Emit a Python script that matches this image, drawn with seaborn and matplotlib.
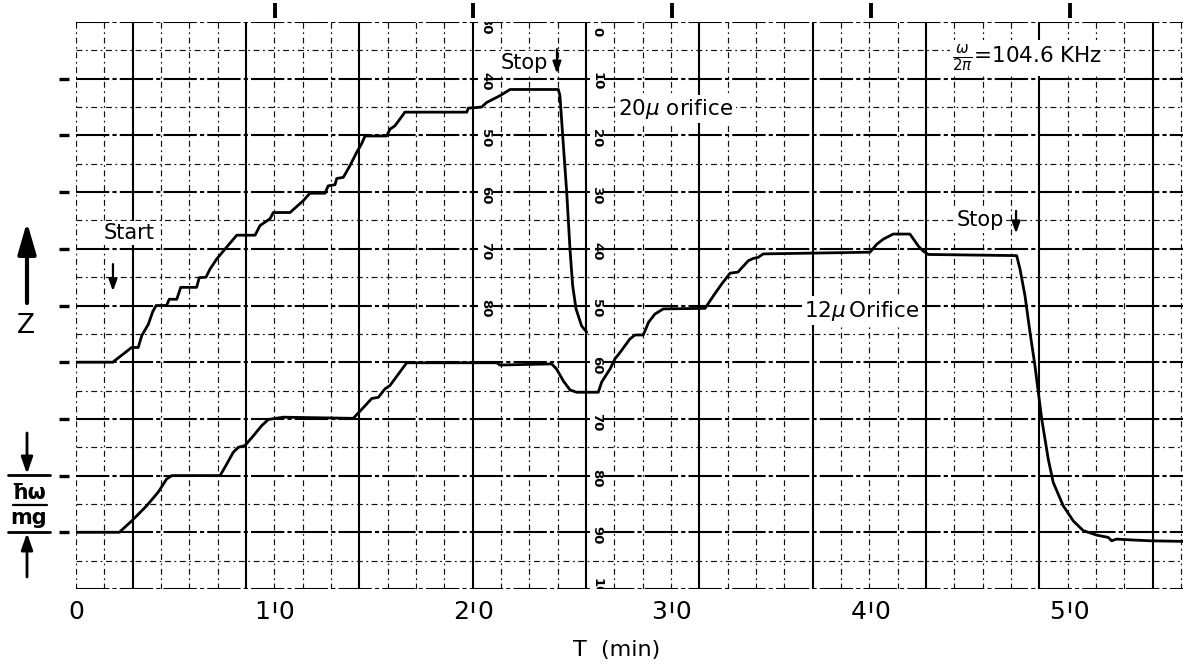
import numpy as np
import pandas as pd
import matplotlib
matplotlib.use("Agg")
import matplotlib.pyplot as plt
import seaborn as sns

# ---------------- data (T in minutes, Z in units of hbar*omega/mg) ----------------
t_20 = [0.00, 1.85, 2.80, 3.13, 3.31, 3.64, 3.86, 4.03, 4.56, 4.69, 5.07, 5.27, 6.07, 6.20,
        6.54, 6.74, 7.08, 7.58, 8.09, 9.01, 9.26, 9.76, 9.93, 10.77, 11.44, 11.77, 12.53,
        12.69, 13.03, 13.12, 13.45, 13.79, 14.12, 14.37, 14.54, 15.63, 15.80, 16.05, 16.55,
        19.66, 19.74, 20.41, 20.66, 21.33, 21.84, 24.27, 24.35, 24.49, 24.69, 24.86, 24.99,
        25.16, 25.44, 25.70]
z_20 = [4.00, 4.00, 4.26, 4.26, 4.47, 4.67, 4.89, 5.00, 5.00, 5.11, 5.11, 5.32, 5.32, 5.49,
        5.50, 5.64, 5.82, 6.03, 6.24, 6.24, 6.41, 6.53, 6.64, 6.64, 6.85, 6.98, 6.98,
        7.11, 7.13, 7.24, 7.26, 7.47, 7.70, 7.85, 7.99, 7.99, 8.11, 8.17, 8.41,
        8.41, 8.48, 8.50, 8.58, 8.70, 8.81, 8.81, 8.70, 7.99, 7.00, 5.97, 5.35,
        4.94, 4.64, 4.53]

t_12 = [0.00, 2.18, 2.80, 3.56, 4.14, 4.56, 4.82, 7.25, 7.58, 7.91, 8.17, 8.50, 8.92, 9.34,
        9.68, 10.43, 13.95, 14.46, 14.88, 15.21, 15.55, 15.80, 16.22, 16.64, 21.17, 21.33,
        23.93, 24.18, 24.52, 24.86, 25.19, 26.28, 26.45, 26.87, 27.12, 27.37, 27.87, 28.13,
        28.54, 28.71, 28.80, 29.13, 29.55, 31.65, 32.07, 32.49, 32.91, 33.32, 33.41, 33.83,
        34.08, 34.33, 34.58, 39.95, 40.29, 40.62, 41.12, 41.96, 42.38, 42.63, 42.88, 47.33,
        47.50, 47.75, 48.00, 48.25, 48.59, 48.92, 49.17, 49.67, 50.18, 50.68, 51.36, 51.94,
        52.11, 52.36, 52.86, 54.04, 55.70]
z_12 = [1.00, 1.00, 1.20, 1.47, 1.71, 1.94, 2.00, 2.00, 2.20, 2.41, 2.50, 2.53, 2.70, 2.88,
        2.99, 3.03, 3.01, 3.20, 3.36, 3.38, 3.53, 3.59, 3.79, 3.99, 3.99, 3.95,
        3.97, 3.88, 3.67, 3.51, 3.47, 3.47, 3.65, 3.88, 4.06, 4.17, 4.41, 4.48,
        4.48, 4.62, 4.70, 4.85, 4.94, 4.95, 5.17, 5.38, 5.57, 5.59, 5.63, 5.79,
        5.83, 5.85, 5.91, 5.94, 6.08, 6.17, 6.26, 6.26, 6.05, 5.96, 5.90, 5.88,
        5.64, 5.17, 4.53, 3.94, 3.00, 2.29, 1.88, 1.47, 1.20, 1.03, 0.95, 0.91,
        0.85, 0.88, 0.87, 0.85, 0.84]

x_tick_pos = [0, 10, 20, 30, 40, 50]
x_tick_labels = ["0", "1 0", "2 0", "3 0", "4 0", "5 0"]
z_ticks = [1, 2, 3, 4, 5, 6, 7, 8, 9]
paper_right_labels = ["0", "10", "20", "30", "40", "50", "60", "70", "80", "90", "100"]
paper_left_labels = ["30", "40", "50", "60", "70", "80"]

# ---------------- style ----------------
sns.set_style("white")
plt.rcParams["font.family"] = ["DejaVu Sans"]
plt.rcParams["text.color"] = "black"
plt.rcParams["xtick.color"] = "black"
plt.rcParams["ytick.color"] = "black"

W, H = 1183, 667
fig = plt.figure(figsize=(W / 100, H / 100), dpi=100)
fig.patch.set_facecolor("white")
ax = fig.add_axes([76 / W, 1 - 589 / H, (W - 76) / W, 567 / H])
ax.set_xlim(0, 55.70)
ax.set_ylim(0, 10)
for s in ax.spines.values():
    s.set_visible(False)

# chart-paper grid
minor_dt = 28.33 / 19.875
for k in range(0, 40):
    tv = k * minor_dt
    if k % 4 == 2:
        ax.axvline(tv, color="black", lw=1.5, zorder=1)
    else:
        ax.axvline(tv, color="#111111", lw=0.85, ls=(0, (5, 3, 1.5, 3)), zorder=1)
for i in range(0, 21):
    zv = i * 0.5
    if i % 2 == 0:
        ax.axhline(zv, color="black", lw=1.5, ls=(0, (16, 1.5, 2, 1.5)), zorder=1)
    else:
        ax.axhline(zv, color="#111111", lw=0.85, ls=(0, (5, 3, 1.5, 3)), zorder=1)

# traces
df20 = pd.DataFrame({"T": t_20, "Z": z_20})
df12 = pd.DataFrame({"T": t_12, "Z": z_12})
sns.lineplot(data=df20, x="T", y="Z", sort=False, estimator=None, color="black", lw=2.0, ax=ax, zorder=5)
sns.lineplot(data=df12, x="T", y="Z", sort=False, estimator=None, color="black", lw=2.0, ax=ax, zorder=5)
ax.set_xlabel("")
ax.set_ylabel("")

# left ticks (short dashes away from edge)
ax.set_yticks(z_ticks)
ax.set_yticklabels([])
ax.spines["left"].set_position(("outward", 5))
ax.tick_params(axis="y", left=True, length=7, width=2.4, direction="out", color="black")

# bottom labels with small ticks
ax.spines["bottom"].set_position(("outward", 9))
ax.set_xticks(x_tick_pos)
ax.set_xticklabels(x_tick_labels, fontsize=18, color="black")
ax.tick_params(axis="x", bottom=True, length=8, width=1.6, direction="out", pad=-9, color="black")
ax.xaxis.get_major_ticks()[0].tick1line.set_visible(False)

# top tick marks
sec = ax.secondary_xaxis(1 + 4 / 567)
sec.set_xticks(x_tick_pos[1:])
sec.set_xticklabels([])
sec.tick_params(length=11, width=2.8, direction="out", color="black")
for s in sec.spines.values():
    s.set_visible(False)

# paper scale numbers along two vertical lines
lab_kw = dict(rotation=-90, fontsize=9.5, fontweight="bold", ha="center", va="center",
              clip_on=True, zorder=3,
              bbox=dict(facecolor="white", edgecolor="none", pad=0.6))
x_right = 18 * minor_dt + 0.55
for i, lab in enumerate(paper_right_labels):
    zv = 10 - i
    if i == 0:
        zv = 9.88
    ax.text(x_right, zv - 0.05, lab, **lab_kw)
x_left = 14 * minor_dt + 0.65
for i, lab in enumerate(paper_left_labels):
    ax.text(x_left, 10 - i - 0.05, lab, **lab_kw)

# annotations
box = dict(facecolor="white", edgecolor="none", pad=1.5)
ax.text(2.67, 6.28, "Start", fontsize=15, ha="center", va="center", bbox=box, zorder=6)
ax.text(22.54, 9.27, "Stop", fontsize=15, ha="center", va="center", bbox=box, zorder=6)
ax.text(45.48, 6.50, "Stop", fontsize=15, ha="center", va="center", bbox=box, zorder=6)
ax.text(30.19, 8.47, "20$\\mu$ orifice", fontsize=15.5, ha="center", va="center", bbox=box, zorder=6)
ax.text(39.55, 4.91, "12$\\mu\\,$Orifice", fontsize=15.5, ha="center", va="center", bbox=box, zorder=6)
ax.text(47.85, 9.36, r"$\frac{\omega}{2\pi}$=104.6 KHz", fontsize=15.5, ha="center", va="center",
        bbox=box, zorder=6)

small_arrow = dict(arrowstyle="-|>,head_length=0.7,head_width=0.25", lw=1.6, color="black",
                   shrinkA=0, shrinkB=0)
ax.annotate("", xy=(1.86, 5.25), xytext=(1.86, 5.73), arrowprops=small_arrow, zorder=7)
ax.annotate("", xy=(24.20, 9.09), xytext=(24.20, 9.52), arrowprops=small_arrow, zorder=7)
ax.annotate("", xy=(47.30, 6.27), xytext=(47.30, 6.67), arrowprops=small_arrow, zorder=7)

# left side: Z with big arrow and hbar*omega/mg scale
fig.text(26 / W, 1 - 326 / H, "Z", fontsize=19, ha="center", va="center")
fig.patches.append(matplotlib.patches.FancyArrowPatch(
    (27 / W, 1 - 303 / H), (27 / W, 1 - 222 / H), transform=fig.transFigure,
    arrowstyle="-|>,head_length=1.9,head_width=0.55", mutation_scale=10, lw=3,
    color="black", shrinkA=0, shrinkB=0))
for yy in (475, 532):
    fig.add_artist(matplotlib.lines.Line2D([8 / W, 50 / W], [1 - yy / H, 1 - yy / H],
                                           color="black", lw=2, transform=fig.transFigure))
fig.add_artist(matplotlib.lines.Line2D([13 / W, 47 / W], [1 - 505 / H, 1 - 505 / H],
                                       color="black", lw=1.6, transform=fig.transFigure))
fig.text(29 / W, 1 - 493 / H, "ħω", fontsize=15, ha="center", va="center", fontweight="bold")
fig.text(29 / W, 1 - 518 / H, "mg", fontsize=15, ha="center", va="center", fontweight="bold")
mid_arrow = dict(arrowstyle="-|>,head_length=1.0,head_width=0.35", mutation_scale=10, lw=2,
                 color="black", shrinkA=0, shrinkB=0)
fig.patches.append(matplotlib.patches.FancyArrowPatch(
    (27 / W, 1 - 433 / H), (27 / W, 1 - 474 / H), transform=fig.transFigure, **mid_arrow))
fig.patches.append(matplotlib.patches.FancyArrowPatch(
    (27 / W, 1 - 577 / H), (27 / W, 1 - 533 / H), transform=fig.transFigure, **mid_arrow))

# x axis title
fig.text(617 / W, 1 - 650 / H, "T  (min)", fontsize=16, ha="center", va="center")

fig.savefig("out.png", dpi=100, facecolor="white")
